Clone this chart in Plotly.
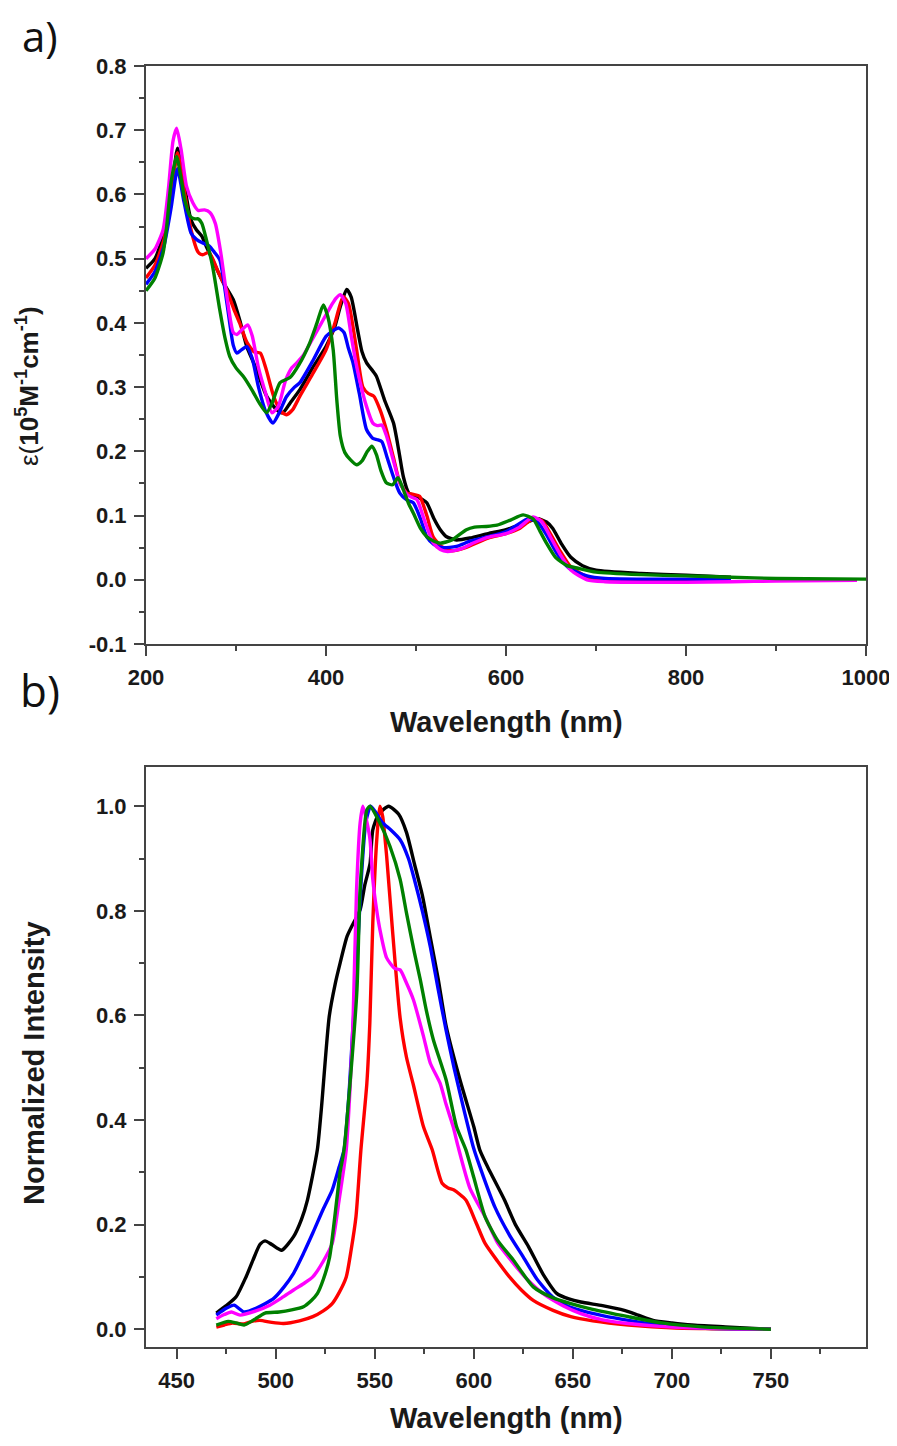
import plotly.graph_objects as go

# ---------------- Panel a) absorption ----------------
abs_black_x = [200,210,220,228,235,242,250,256,262,267,275,285,297,305,312,322,334,345,352,360,371,385,400,410,416,423,428,435,440,445,452,456,465,475,481,486,492,500,507,512,520,527,534,545,560,580,600,620,635,645,652,662,672,685,700,750,800,850]
abs_black_y = [0.485,0.50,0.54,0.60,0.672,0.62,0.56,0.545,0.535,0.519,0.495,0.465,0.436,0.40,0.363,0.33,0.286,0.265,0.26,0.275,0.296,0.33,0.363,0.395,0.426,0.452,0.44,0.39,0.355,0.338,0.325,0.317,0.28,0.244,0.20,0.16,0.135,0.13,0.125,0.12,0.095,0.078,0.067,0.062,0.065,0.072,0.078,0.088,0.095,0.09,0.08,0.055,0.035,0.022,0.015,0.01,0.007,0.004]

abs_red_x = [200,210,220,228,235,242,250,258,263,270,280,290,298,304,312,320,327,333,342,350,356,363,371,385,400,410,419,425,434,441,447,453,460,467,475,482,490,497,504,512,519,528,540,555,580,600,615,630,640,650,660,672,690,710,750,800,850]
abs_red_y = [0.47,0.49,0.53,0.60,0.665,0.61,0.545,0.51,0.506,0.51,0.48,0.45,0.42,0.40,0.37,0.355,0.353,0.33,0.285,0.262,0.257,0.265,0.286,0.32,0.358,0.40,0.441,0.43,0.358,0.30,0.29,0.286,0.265,0.234,0.19,0.151,0.135,0.133,0.13,0.10,0.067,0.052,0.045,0.05,0.065,0.072,0.08,0.095,0.092,0.07,0.045,0.02,0.005,0.0,-0.001,-0.002,-0.002]

abs_blue_x = [200,210,220,228,235,242,250,256,262,270,276,282,290,297,301,306,312,318,325,333,341,348,356,365,371,385,400,408,414,420,425,430,437,445,452,457,462,468,475,482,490,497,505,512,520,530,545,560,580,600,612,625,635,645,657,670,690,710,750,800,850]
abs_blue_y = [0.46,0.48,0.52,0.58,0.64,0.59,0.54,0.53,0.525,0.52,0.51,0.498,0.43,0.365,0.353,0.358,0.363,0.345,0.30,0.262,0.244,0.26,0.285,0.30,0.307,0.34,0.379,0.388,0.392,0.385,0.36,0.338,0.29,0.234,0.22,0.218,0.215,0.19,0.16,0.135,0.124,0.12,0.095,0.067,0.055,0.05,0.052,0.06,0.067,0.075,0.085,0.095,0.09,0.07,0.04,0.018,0.006,0.002,0.001,0.001,0.0]

abs_mag_x = [200,210,219,225,230,234,239,245,252,258,265,271,277,283,290,297,301,307,313,318,325,333,340,347,355,362,367,375,385,395,405,411,416,422,428,433,438,445,452,457,462,467,474,482,490,496,501,510,519,527,535,550,565,580,600,615,630,640,650,660,672,690,710,750,800,850,900,990]
abs_mag_y = [0.50,0.515,0.545,0.61,0.683,0.703,0.67,0.613,0.587,0.575,0.576,0.572,0.555,0.51,0.44,0.385,0.382,0.39,0.397,0.38,0.33,0.29,0.26,0.27,0.31,0.33,0.337,0.35,0.375,0.40,0.425,0.438,0.444,0.43,0.38,0.34,0.307,0.27,0.244,0.24,0.241,0.225,0.19,0.151,0.133,0.128,0.125,0.09,0.058,0.047,0.044,0.048,0.058,0.066,0.072,0.082,0.098,0.09,0.065,0.04,0.015,0.0,-0.003,-0.004,-0.004,-0.003,-0.002,-0.001]

abs_green_x = [200,210,219,223,228,234,239,243,249,254,258,262,267,274,282,288,293,300,308,318,326,334,340,349,360,370,382,390,397,402,408,412,416,421,427,434,440,446,451,456,461,467,474,480,486,492,497,505,512,520,527,540,556,565,578,590,605,619,630,638,645,655,668,680,700,750,800,850,900,1000]
abs_green_y = [0.45,0.47,0.509,0.55,0.62,0.659,0.625,0.592,0.566,0.562,0.562,0.555,0.53,0.488,0.42,0.375,0.348,0.33,0.317,0.295,0.275,0.26,0.275,0.307,0.315,0.335,0.369,0.40,0.428,0.41,0.358,0.28,0.223,0.198,0.187,0.179,0.185,0.20,0.208,0.195,0.17,0.151,0.148,0.159,0.14,0.118,0.104,0.08,0.067,0.06,0.057,0.062,0.078,0.082,0.083,0.085,0.093,0.101,0.095,0.075,0.057,0.035,0.022,0.018,0.012,0.008,0.006,0.004,0.002,0.001]

# ---------------- Panel b) emission ----------------
em_black_x = [470,475,480,485,488.5,492,494.6,498,503,509,513,516,521,523,527,530,532.5,536,539,542.6,545,547.6,549,552,557,562,566,570,574,578,582,586,593,600,603,607,615.5,621,627.6,635,642,648,654,665,676,683,690.5,700,710,727,750]
em_black_y = [0.031,0.045,0.062,0.10,0.132,0.162,0.169,0.162,0.151,0.177,0.21,0.247,0.343,0.42,0.598,0.66,0.70,0.751,0.775,0.802,0.85,0.89,0.955,0.985,1.0,0.985,0.95,0.89,0.83,0.75,0.67,0.58,0.477,0.387,0.343,0.31,0.247,0.2,0.158,0.105,0.068,0.058,0.052,0.045,0.036,0.027,0.017,0.012,0.008,0.0045,0.0]

em_red_x = [470,474,478,484,488,492,498,504,512,518.7,524,528.5,532,535.6,538,540.5,543,546,547.5,549,551,552.6,554,556,559,562.8,566,569.5,574.6,579,584,587,590,596,601,605.7,612,618,624,630,640,649,660,678,702,720,750]
em_red_y = [0.004,0.008,0.012,0.01,0.015,0.017,0.013,0.011,0.016,0.024,0.035,0.049,0.07,0.10,0.15,0.215,0.343,0.47,0.585,0.777,0.936,1.0,0.98,0.904,0.76,0.595,0.52,0.467,0.387,0.343,0.279,0.27,0.266,0.247,0.205,0.164,0.13,0.10,0.075,0.055,0.036,0.024,0.016,0.008,0.002,0.001,0.0]

em_blue_x = [470,475,479,484,490,499,504,509,514,518.7,524,528.5,532,534.5,537,539,541,543,545.5,548,554,558,562.8,567,570,574,578,582,586,590,595,600,605,610.6,618,625,632,639.7,647,654,665,678,695,715,750]
em_blue_y = [0.027,0.04,0.046,0.033,0.04,0.059,0.08,0.107,0.145,0.184,0.23,0.266,0.31,0.343,0.45,0.58,0.70,0.85,0.97,1.0,0.968,0.955,0.936,0.90,0.86,0.80,0.732,0.65,0.572,0.50,0.42,0.345,0.29,0.234,0.18,0.138,0.095,0.062,0.045,0.036,0.026,0.017,0.008,0.002,0.0]

em_mag_x = [470,474,477.6,482,490,497,503,509,514,518.7,524,528.5,532,535.6,537.5,539,540.8,542.6,544,546,547.6,549,551,552.6,556,560,562.8,566,569.5,574.6,578,583,586,589.6,592,598,605.7,612,620,627,635,645,654,665,678,700,750]
em_mag_y = [0.02,0.028,0.033,0.027,0.035,0.046,0.06,0.075,0.087,0.10,0.13,0.164,0.247,0.343,0.46,0.585,0.84,0.968,1.0,0.97,0.936,0.86,0.80,0.764,0.71,0.69,0.687,0.662,0.63,0.56,0.509,0.47,0.43,0.387,0.35,0.27,0.215,0.165,0.126,0.095,0.068,0.045,0.03,0.018,0.011,0.004,0.0]

em_green_x = [470,476,480,484,489,494.6,501.7,508,514,518,521,524,527.2,530.8,532.5,534.5,537.5,541,542.6,546,547.6,552.6,557.7,562.8,566,570,573,576,579.6,586,591.3,596,600,605.7,612,620,630,640,649,660,678,695,715,750]
em_green_y = [0.008,0.015,0.012,0.008,0.018,0.031,0.033,0.037,0.043,0.055,0.068,0.095,0.138,0.247,0.30,0.343,0.47,0.649,0.84,0.993,1.0,0.968,0.923,0.86,0.796,0.72,0.668,0.61,0.553,0.477,0.387,0.343,0.29,0.215,0.17,0.132,0.081,0.06,0.049,0.038,0.024,0.012,0.0045,0.0]

# tick labels
abs_x_ticks = [200, 400, 600, 800, 1000]
abs_y_ticks = [-0.1, 0.0, 0.1, 0.2, 0.3, 0.4, 0.5, 0.6, 0.7, 0.8]
abs_y_labels = ["-0.1", "0.0", "0.1", "0.2", "0.3", "0.4", "0.5", "0.6", "0.7", "0.8"]
em_x_ticks = [450, 500, 550, 600, 650, 700, 750]
em_y_ticks = [0.0, 0.2, 0.4, 0.6, 0.8, 1.0]
em_y_labels = ["0.0", "0.2", "0.4", "0.6", "0.8", "1.0"]

colors = {"black": "#000000", "red": "#ff0000", "blue": "#0000ff",
          "magenta": "#ff00ff", "green": "#008000"}

abs_series = [("black", abs_black_x, abs_black_y), ("red", abs_red_x, abs_red_y),
              ("blue", abs_blue_x, abs_blue_y), ("magenta", abs_mag_x, abs_mag_y),
              ("green", abs_green_x, abs_green_y)]
em_series = [("black", em_black_x, em_black_y), ("red", em_red_x, em_red_y),
             ("blue", em_blue_x, em_blue_y), ("magenta", em_mag_x, em_mag_y),
             ("green", em_green_x, em_green_y)]

fig = go.Figure()
for name, xs, ys in abs_series:
    fig.add_trace(go.Scatter(x=xs, y=ys, mode="lines", xaxis="x", yaxis="y",
                             line=dict(color=colors[name], width=3.4, shape="spline", smoothing=0.6),
                             showlegend=False, hoverinfo="skip"))
for name, xs, ys in em_series:
    fig.add_trace(go.Scatter(x=xs, y=ys, mode="lines", xaxis="x2", yaxis="y2",
                             line=dict(color=colors[name], width=3.4, shape="spline", smoothing=0.6),
                             showlegend=False, hoverinfo="skip"))

# The page body adds an 8px offset; size the figure so it fills the window exactly.
OFF = 8
W, H = 897 - OFF, 1446 - OFF


def px(x):
    return (x - OFF) / W


def py(y):
    return 1 - (y - OFF) / H


tickfont = dict(family="Liberation Sans, Arial, sans-serif", size=22, color="#1a1a1a", weight="bold")
axcol = "#444444"


def axis(dom, anchor, rng, tickvals, ticktext, mdtick, mtick0):
    d = dict(domain=dom, anchor=anchor, range=rng, tickmode="array", tickvals=tickvals,
             ticks="outside", ticklen=10, tickwidth=2, tickcolor=axcol, ticklabelstandoff=3,
             showline=True, linecolor=axcol, linewidth=2, mirror=True,
             showgrid=False, zeroline=False, tickfont=tickfont, automargin=False,
             minor=dict(dtick=mdtick, tick0=mtick0, ticks="outside", ticklen=5,
                        tickwidth=2, tickcolor=axcol, showgrid=False))
    if ticktext is not None:
        d["ticktext"] = ticktext
    return d


xd = [px(146), px(866)]
fig.update_layout(
    width=W, height=H, margin=dict(l=0, r=0, t=0, b=0, autoexpand=False),
    paper_bgcolor="white", plot_bgcolor="white",
    xaxis=axis(xd, "y", [200, 1000], abs_x_ticks, None, 100, 200),
    yaxis=axis([py(644), py(66)], "x", [-0.1, 0.8], abs_y_ticks, abs_y_labels, 0.05, 0),
    xaxis2=axis(xd, "y2", [434.5, 798], em_x_ticks, None, 25, 450),
    yaxis2=axis([py(1347), py(767)], "x2", [-0.034, 1.075], em_y_ticks, em_y_labels, 0.1, 0),
)

titlefont = dict(family="Liberation Sans, Arial, sans-serif", size=29, color="#1a1a1a", weight="bold")
ann = [
    dict(text="a)", x=px(40), y=py(36), font=dict(family="Open Sans, sans-serif", size=42, color="#111")),
    dict(text="b)", x=px(40), y=py(690), font=dict(family="Open Sans, sans-serif", size=44, color="#111")),
    dict(text="Wavelength (nm)", x=px(506), y=py(722), font=titlefont),
    dict(text="Wavelength (nm)", x=px(506), y=py(1418), font=titlefont),
    dict(text="Normalized Intensity", x=px(34), y=py(1063), textangle=-90, font=titlefont),
    dict(text="ε(<b>10<sup>5</sup>M<sup>-1</sup>cm<sup>-1</sup>)</b>", x=px(28), y=py(386), textangle=-90,
         font=dict(family="Liberation Sans, Arial, sans-serif", size=26, color="#1a1a1a")),
]
for a in ann:
    a.update(xref="paper", yref="paper", showarrow=False, xanchor="center", yanchor="middle")
fig.update_layout(annotations=ann)

fig.write_html("out.html")
